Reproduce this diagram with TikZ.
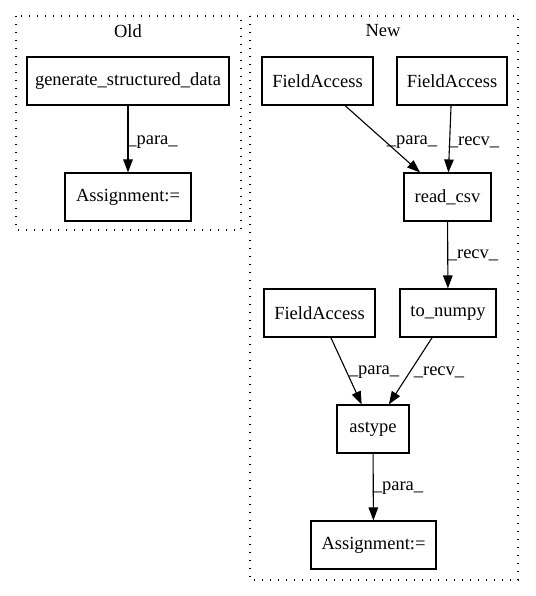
\documentclass[tikz,border=0pt]{standalone}
\usepackage{fontspec}
\setmainfont{Liberation Serif}
\usetikzlibrary{arrows.meta}
\begin{document}
\begin{tikzpicture}[x=1pt,y=-1pt,
  box/.style={draw=black,line width=1.1pt,rectangle,minimum height=48pt,inner sep=0pt,font=\fontsize{18.5}{22}\selectfont},
  lbl/.style={inner sep=0pt,font=\fontsize{18.5}{22}\selectfont},
  cluster/.style={draw=black,line width=1.4pt,dash pattern=on 1.4pt off 6.6pt},
  edge/.style={draw=black,line width=1.1pt,-{Triangle[length=13pt,width=9.5pt]}}]
\useasboundingbox (0,0) rectangle (535,596);
% clusters
\draw[cluster] (16,16) rectangle (241,230);
\draw[cluster] (250,16) rectangle (518,580);
\node[lbl] (oldlbl) at (128,31) {Old};
\node[lbl] (newlbl) at (383,31) {New};
% nodes
\node[box,minimum width=202pt] (gsd) at (128,81) {generate\_structured\_data};
\node[box,minimum width=126pt] (asg1) at (128,197) {Assignment:=};
\node[box,minimum width=111pt] (fa1) at (317.5,81) {FieldAccess};
\node[box,minimum width=110pt] (fa2) at (452,81) {FieldAccess};
\node[box,minimum width=87pt] (readcsv) at (447.5,197) {read\_csv};
\node[box,minimum width=111pt] (fa3) at (319.5,313) {FieldAccess};
\node[box,minimum width=96pt] (tonumpy) at (448,313) {to\_numpy};
\node[box,minimum width=72pt] (astype) at (373,429) {astype};
\node[box,minimum width=125pt] (asg2) at (373.5,545) {Assignment:=};
% edges
\draw[edge] (gsd) -- (asg1);
\draw[edge] (fa1) -- (readcsv);
\draw[edge] (fa2) -- (readcsv);
\draw[edge] (readcsv) -- (tonumpy);
\draw[edge] (fa3) -- (astype);
\draw[edge] (tonumpy) -- (astype);
\draw[edge] (astype) -- (asg2);
% edge labels
\node[lbl] (l1) at (152.5,142) {\_para\_};
\node[lbl] (l2) at (412,142) {\_para\_};
\node[lbl] (l3) at (474,142) {\_recv\_};
\node[lbl] (l4) at (473,255) {\_recv\_};
\node[lbl] (l5) at (374,372) {\_para\_};
\node[lbl] (l6) at (439,372) {\_recv\_};
\node[lbl] (l7) at (398,488) {\_para\_};
\end{tikzpicture}
\end{document}
